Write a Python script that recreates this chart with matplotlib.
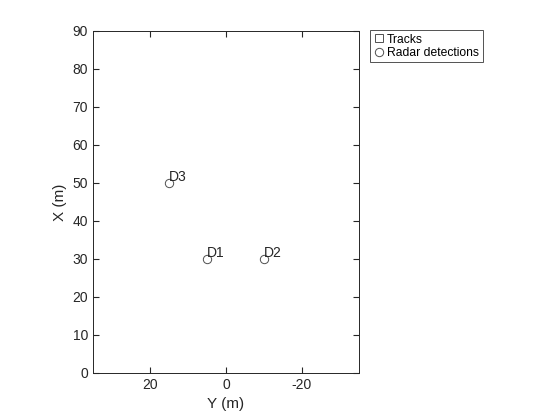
import matplotlib
matplotlib.use("Agg")
import matplotlib.pyplot as plt

plt.rcParams['font.family'] = ['Liberation Sans', 'DejaVu Sans']
plt.rcParams['axes.unicode_minus'] = False

det_labels = ["D1", "D2", "D3"]
det_y = [5, -10, 15]
det_x = [30, 30, 50]
track_y = []
track_x = []

fig = plt.figure(figsize=(5.6, 4.2), dpi=100)
ax = fig.add_axes([93/560, 47/420, 266/560, 342/420])

ax.plot(track_y, track_x, linestyle='none', marker='s', markerfacecolor='none',
        markeredgecolor='#505050', markersize=6, markeredgewidth=0.7, label='Tracks')
ax.plot(det_y, det_x, linestyle='none', marker='o', markerfacecolor='none',
        markeredgecolor='#505050', markersize=6, markeredgewidth=0.7, label='Radar detections')
for lab, yv, xv in zip(det_labels, det_y, det_x):
    ax.annotate(lab, (yv, xv), xytext=(0, -1), textcoords='offset points',
                ha='left', va='bottom', fontsize=10, color='#262626')

ax.set_xlim(35, -35)
ax.set_ylim(0, 90)
ax.set_xticks([20, 0, -20])
ax.set_yticks(range(0, 91, 10))
ax.set_xlabel('Y (m)', fontsize=11, color='#262626')
ax.set_ylabel('X (m)', fontsize=11, color='#262626')
ax.tick_params(direction='in', top=True, right=True, labelsize=10, colors='#262626', length=4)
for s in ax.spines.values():
    s.set_color('#262626')
    s.set_linewidth(0.7)

leg = fig.legend(loc='upper left', bbox_to_anchor=(370/560, 1 - 30/420), fontsize=8.7,
                 frameon=True, fancybox=False, edgecolor='#262626', borderpad=0.3,
                 handletextpad=0.2, handlelength=0.9, labelspacing=0.1, borderaxespad=0)
leg.get_frame().set_linewidth(0.7)

fig.savefig('out.png', dpi=100)
